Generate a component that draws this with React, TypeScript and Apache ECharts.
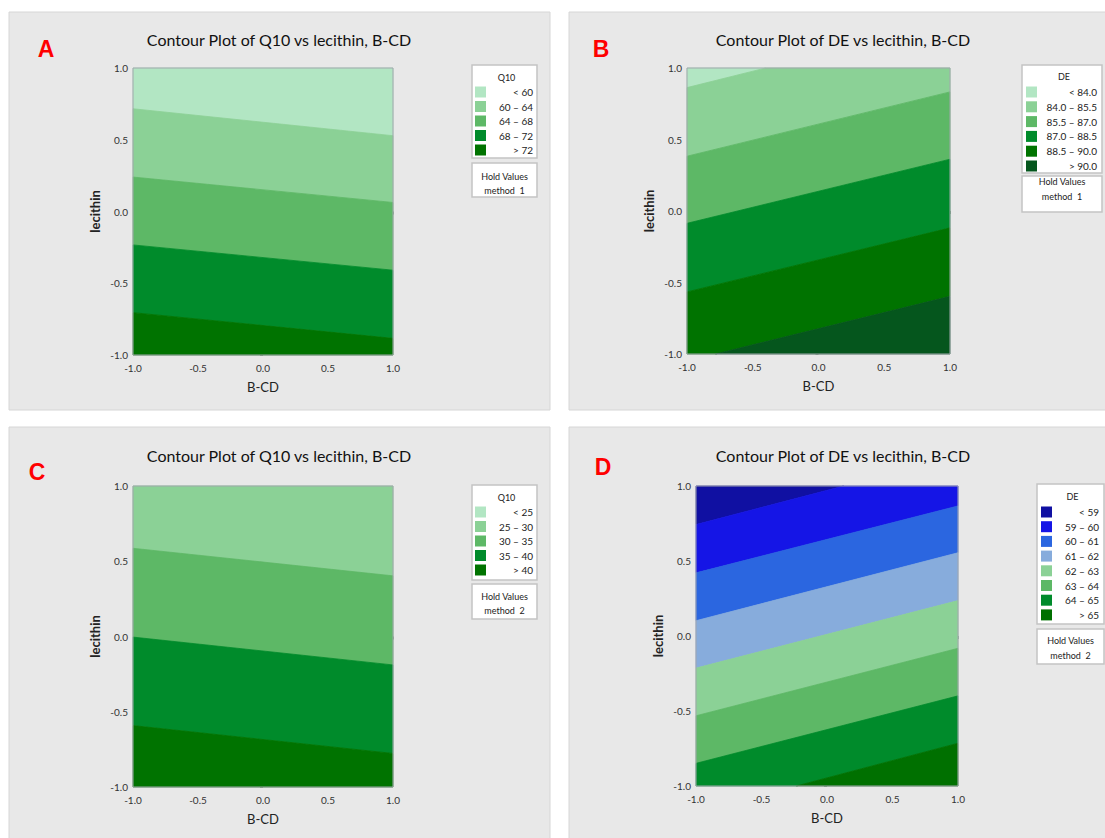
import React, { useEffect, useRef } from "react";
import * as echarts from "echarts";

// ---------- DATA ----------
// Contour boundaries: lecithin value of each contour line at B-CD = -1 and B-CD = +1
const bcdEnds = [-1, 1];

// A: Q10, method 1
const titleA = "Contour Plot of Q10 vs lecithin, B-CD";
const labelsA = ["< 60", "60 – 64", "64 – 68", "68 – 72", "> 72"];
const leftA = [0.716, 0.24, -0.233, -0.705];
const rightA = [0.528, 0.063, -0.409, -0.884];
const holdA = "method  1";

// B: DE, method 1
const titleB = "Contour Plot of DE vs lecithin, B-CD";
const labelsB = ["< 84.0", "84.0 – 85.5", "85.5 – 87.0", "87.0 – 88.5", "88.5 – 90.0", "> 90.0"];
const leftB = [0.863, 0.383, -0.086, -0.566, -1.049];
const rightB = [1.321, 0.833, 0.362, -0.118, -0.597];
const holdB = "method  1";

// C: Q10, method 2
const titleC = "Contour Plot of Q10 vs lecithin, B-CD";
const labelsC = ["< 25", "25 – 30", "30 – 35", "35 – 40", "> 40"];
const leftC = [1.18, 0.586, -0.004, -0.592];
const rightC = [1.02, 0.403, -0.189, -0.777];
const holdC = "method  2";

// D: DE, method 2
const titleD = "Contour Plot of DE vs lecithin, B-CD";
const labelsD = ["< 59", "59 – 60", "60 – 61", "61 – 62", "62 – 63", "63 – 64", "64 – 65", "> 65"];
const leftD = [0.743, 0.421, 0.102, -0.214, -0.532, -0.849, -1.177];
const rightD = [1.199, 0.867, 0.555, 0.236, -0.082, -0.399, -0.715];
const holdD = "method  2";

const xTicks = [-1, -0.5, 0, 0.5, 1];

// ---------- STYLE ----------
const greens5 = ["#b2e6c3", "#8bd196", "#5db866", "#008b2b", "#007300"];
const greens6 = ["#b2e6c3", "#8bd196", "#5db866", "#008b2b", "#007300", "#05561d"];
const blueGreen8 = ["#1010a2", "#1515e6", "#2b66e0", "#87acdc", "#8bd196", "#5db866", "#008b2b", "#007000"];

const FONT = 'Lato, "Noto Sans", "DejaVu Sans", sans-serif';

const EXTREME = 5;

function bandData(L: number[], R: number[]) {
  const out: number[][] = [];
  for (let k = 0; k <= L.length; k++) {
    const uL = k === 0 ? EXTREME : L[k - 1];
    const uR = k === 0 ? EXTREME : R[k - 1];
    const lL = k === L.length ? -EXTREME : L[k];
    const lR = k === L.length ? -EXTREME : R[k];
    out.push([uL, uR, lL, lR]);
  }
  return out;
}

function clipY(poly: number[][], lim: number, below: boolean) {
  const out: number[][] = [];
  const inside = (p: number[]) => (below ? p[1] <= lim : p[1] >= lim);
  const inter = (a: number[], b: number[]) => {
    const t = (lim - a[1]) / (b[1] - a[1]);
    return [a[0] + t * (b[0] - a[0]), lim];
  };
  for (let i = 0; i < poly.length; i++) {
    const cur = poly[i];
    const prev = poly[(i + poly.length - 1) % poly.length];
    const ci = inside(cur);
    const pi = inside(prev);
    if (ci) {
      if (!pi) out.push(inter(prev, cur));
      out.push(cur);
    } else if (pi) {
      out.push(inter(prev, cur));
    }
  }
  return out;
}

function makeRender(colors: string[]) {
  return (params: any, api: any) => {
    const uL = api.value(0);
    const uR = api.value(1);
    const lL = api.value(2);
    const lR = api.value(3);
    let poly = [
      [bcdEnds[0], uL],
      [bcdEnds[1], uR],
      [bcdEnds[1], lR],
      [bcdEnds[0], lL],
    ];
    poly = clipY(poly, 1, true);
    if (poly.length < 3) return null;
    poly = clipY(poly, -1, false);
    if (poly.length < 3) return null;
    const pts = poly.map((p) => api.coord(p));
    const c = colors[params.dataIndex];
    return {
      type: "polygon",
      shape: { points: pts },
      style: { fill: c, stroke: c, lineWidth: 0.8 },
      silent: true,
    };
  };
}

const panels = [
  {
    letter: "A", title: titleA, legendTitle: "Q10", labels: labelsA, colors: greens5, L: leftA, R: rightA, hold: holdA,
    grid: { left: 133, top: 68, width: 260, height: 287 },
    bg: [9, 12, 541, 398], letterPos: [46, 49], titlePos: [279, 39],
    legBox: [472, 65, 65, 93], holdBox: [472, 163, 65, 34], titleY: 77, rowY0: 92, rowStep: 14.5,
    swatchX: 475, textRight: 533, holdY: [176, 190],
  },
  {
    letter: "B", title: titleB, legendTitle: "DE", labels: labelsB, colors: greens6, L: leftB, R: rightB, hold: holdB,
    grid: { left: 687, top: 68, width: 263, height: 286 },
    bg: [569, 12, 545, 398], letterPos: [601, 49], titlePos: [843, 39],
    legBox: [1022, 65, 80, 108], holdBox: [1022, 176, 80, 36], titleY: 76, rowY0: 92, rowStep: 14.8,
    swatchX: 1026, textRight: 1097, holdY: [181, 196],
  },
  {
    letter: "C", title: titleC, legendTitle: "Q10", labels: labelsC, colors: greens5, L: leftC, R: rightC, hold: holdC,
    grid: { left: 133, top: 486, width: 260, height: 301 },
    bg: [9, 427, 541, 420], letterPos: [37, 472], titlePos: [279, 455],
    legBox: [472, 485, 65, 95], holdBox: [472, 584, 65, 35], titleY: 497, rowY0: 512, rowStep: 14.5,
    swatchX: 475, textRight: 533, holdY: [596, 610],
  },
  {
    letter: "D", title: titleD, legendTitle: "DE", labels: labelsD, colors: blueGreen8, L: leftD, R: rightD, hold: holdD,
    grid: { left: 696, top: 486, width: 262, height: 300 },
    bg: [569, 427, 545, 420], letterPos: [603, 467], titlePos: [843, 455],
    legBox: [1037, 484, 67, 140], holdBox: [1037, 629, 67, 35], titleY: 496, rowY0: 512, rowStep: 14.7,
    swatchX: 1041, textRight: 1099, holdY: [640, 655],
  },
];

export default function App() {
  const ref = useRef<HTMLDivElement>(null);

  useEffect(() => {
    if (!ref.current) return;
    const chart = echarts.init(ref.current, undefined, { renderer: "svg" });

    const graphics: any[] = [];
    panels.forEach((p) => {
      graphics.push({
        type: "rect", z: -100,
        shape: { x: p.bg[0], y: p.bg[1], width: p.bg[2], height: p.bg[3] },
        style: { fill: "#e8e8e8", stroke: "#d6d6d6", lineWidth: 1 },
        silent: true,
      });
      graphics.push({
        type: "text", z: 10, x: p.letterPos[0], y: p.letterPos[1],
        style: { text: p.letter, fill: "#ff0000", font: 'bold 23px "Liberation Sans", Arial, sans-serif', align: "center", verticalAlign: "middle" },
      });
      graphics.push({
        type: "text", z: 10, x: p.titlePos[0], y: p.titlePos[1],
        style: { text: p.title, fill: "#111111", font: `16px ${FONT}`, align: "center", verticalAlign: "middle" },
      });
      // legend box
      graphics.push({
        type: "rect", z: 10,
        shape: { x: p.legBox[0], y: p.legBox[1], width: p.legBox[2], height: p.legBox[3] },
        style: { fill: "#ffffff", stroke: "#c4c4c4", lineWidth: 1.5 },
      });
      graphics.push({
        type: "text", z: 11, x: p.legBox[0] + p.legBox[2] / 2 + 2, y: p.titleY,
        style: { text: p.legendTitle, fill: "#222", font: `9px ${FONT}`, align: "center", verticalAlign: "middle" },
      });
      p.labels.forEach((lab, i) => {
        const y = p.rowY0 + i * p.rowStep;
        graphics.push({
          type: "rect", z: 11,
          shape: { x: p.swatchX, y: y - 5.5, width: 11, height: 11 },
          style: { fill: p.colors[i] },
        });
        graphics.push({
          type: "text", z: 11, x: p.textRight, y,
          style: { text: lab, fill: "#222", font: `10px ${FONT}`, align: "right", verticalAlign: "middle" },
        });
      });
      // hold values box
      graphics.push({
        type: "rect", z: 10,
        shape: { x: p.holdBox[0], y: p.holdBox[1], width: p.holdBox[2], height: p.holdBox[3] },
        style: { fill: "#ffffff", stroke: "#c4c4c4", lineWidth: 1.5 },
      });
      graphics.push({
        type: "text", z: 11, x: p.holdBox[0] + p.holdBox[2] / 2, y: p.holdY[0],
        style: { text: "Hold Values", fill: "#222", font: `9px ${FONT}`, align: "center", verticalAlign: "middle" },
      });
      graphics.push({
        type: "text", z: 11, x: p.holdBox[0] + p.holdBox[2] / 2, y: p.holdY[1],
        style: { text: p.hold, fill: "#222", font: `9px ${FONT}`, align: "center", verticalAlign: "middle" },
      });
    });

    const tickFmt = (v: number) => v.toFixed(1);

    const option: any = {
      animation: false,
      backgroundColor: "#ffffff",
      textStyle: { fontFamily: FONT },
      grid: panels.map((p) => ({
        ...p.grid,
        show: true,
        z: 5,
        backgroundColor: "transparent",
        borderColor: "#a2a6ae",
        borderWidth: 1,
        containLabel: false,
      })),
      xAxis: panels.map((p, i) => ({
        gridIndex: i,
        type: "value",
        min: xTicks[0],
        max: xTicks[xTicks.length - 1],
        interval: 0.5,
        axisLine: { show: false },
        axisTick: { show: true, length: 3, lineStyle: { color: "#9a9a9a" } },
        splitLine: { show: false },
        axisLabel: { formatter: tickFmt, fontSize: 10, color: "#333", margin: 8, fontFamily: FONT },
        name: "B-CD",
        nameLocation: "middle",
        nameGap: 25,
        nameTextStyle: { fontSize: 13, color: "#222", fontFamily: FONT },
      })),
      yAxis: panels.map((p, i) => ({
        gridIndex: i,
        type: "value",
        min: -1,
        max: 1,
        interval: 0.5,
        axisLine: { show: false },
        axisTick: { show: true, length: 3, lineStyle: { color: "#9a9a9a" } },
        splitLine: { show: false },
        axisLabel: { formatter: tickFmt, fontSize: 10, color: "#333", margin: 5, fontFamily: FONT },
        name: "lecithin",
        nameLocation: "middle",
        nameRotate: 90,
        nameGap: 32,
        nameTextStyle: { fontSize: 13, fontWeight: "bold", color: "#222", fontFamily: FONT },
      })),
      series: panels.map((p, i) => ({
        type: "custom",
        xAxisIndex: i,
        yAxisIndex: i,
        coordinateSystem: "cartesian2d",
        dimensions: ["uL", "uR", "lL", "lR"],
        encode: { x: 0, y: 1 },
        renderItem: makeRender(p.colors),
        data: bandData(p.L, p.R),
        silent: true,
      })),
      graphic: { elements: graphics },
    };

    chart.setOption(option);
    return () => chart.dispose();
  }, []);

  return (
    <div
      ref={ref}
      style={{ position: "absolute", left: 0, top: 0, width: 1105, height: 838 }}
    />
  );
}
